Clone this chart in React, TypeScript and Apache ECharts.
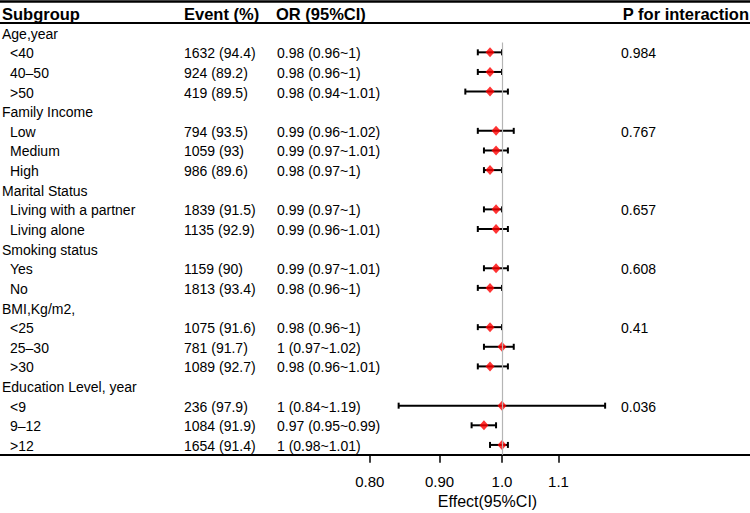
import React, { useEffect, useRef } from "react";
import * as echarts from "echarts";

// ---------- data ----------
const headers = ["Subgroup", "Event (%)", "OR (95%CI)", "P for interaction"];

const rowLabels = [
  "Age,year", "<40", "40–50", ">50",
  "Family Income", "Low", "Medium", "High",
  "Marital Status", "Living with a partner", "Living alone",
  "Smoking status", "Yes", "No",
  "BMI,Kg/m2,", "<25", "25–30", ">30",
  "Education Level, year", "<9", "9–12", ">12",
];

const eventN: (number | null)[] = [
  null, 1632, 924, 419,
  null, 794, 1059, 986,
  null, 1839, 1135,
  null, 1159, 1813,
  null, 1075, 781, 1089,
  null, 236, 1084, 1654,
];

const eventPct: (number | null)[] = [
  null, 94.4, 89.2, 89.5,
  null, 93.5, 93, 89.6,
  null, 91.5, 92.9,
  null, 90, 93.4,
  null, 91.6, 91.7, 92.7,
  null, 97.9, 91.9, 91.4,
];

const orEst: (number | null)[] = [
  null, 0.98, 0.98, 0.98,
  null, 0.99, 0.99, 0.98,
  null, 0.99, 0.99,
  null, 0.99, 0.98,
  null, 0.98, 1, 0.98,
  null, 1, 0.97, 1,
];

const orLow: (number | null)[] = [
  null, 0.96, 0.96, 0.94,
  null, 0.96, 0.97, 0.97,
  null, 0.97, 0.96,
  null, 0.97, 0.96,
  null, 0.96, 0.97, 0.96,
  null, 0.84, 0.95, 0.98,
];

const orHigh: (number | null)[] = [
  null, 1, 1, 1.01,
  null, 1.02, 1.01, 1,
  null, 1, 1.01,
  null, 1.01, 1,
  null, 1, 1.02, 1.01,
  null, 1.19, 0.99, 1.01,
];

const pInteraction: (string | null)[] = [
  null, "0.984", null, null,
  null, "0.767", null, null,
  null, "0.657", null,
  null, "0.608", null,
  null, "0.41", null, null,
  null, "0.036", null, null,
];

const tickValues = [0.8, 0.9, 1.0, 1.1];
const tickLabels = ["0.80", "0.90", "1.0", "1.1"];
const axisTitle = "Effect(95%CI)";
const referenceValue = 1;

// ---------- layout ----------
const FONT = "'Liberation Sans', Arial, Helvetica, sans-serif";
const W = 750;
const H = 513;
const X_MIN = -0.36777; // log10 scale
const X_MAX = 0.18168;
const ROW_PX = 19.63;
const FIRST_ROW_Y = 32.7;
const Y_MIN = -FIRST_ROW_Y / ROW_PX;
const Y_MAX = 21.5;
const GRID_BOTTOM = H - (FIRST_ROW_Y + Y_MAX * ROW_PX);
const COL_X = [2, 184, 277, 621];
const SUB_INDENT = 10;
const HEADER_SIZE = 16.5;
const BODY_SIZE = 14;

const fmtEvent = (i: number) => `${eventN[i]} (${eventPct[i]})`;
const fmtOR = (i: number) => `${orEst[i]} (${orLow[i]}~${orHigh[i]})`;

export default function App() {
  const ref = useRef<HTMLDivElement>(null);

  useEffect(() => {
    if (!ref.current) return;
    const chart = echarts.init(ref.current, null, { renderer: "svg" });

    const tickLog = tickValues.map((v) => Math.log10(v));

    const tableData: number[][] = [[0, -1]];
    rowLabels.forEach((_, i) => tableData.push([0, i]));

    const barData: number[][] = [];
    const pointData: number[][] = [];
    rowLabels.forEach((_, i) => {
      if (orEst[i] == null) return;
      barData.push([Math.log10(orLow[i] as number), Math.log10(orHigh[i] as number), i]);
      pointData.push([Math.log10(orEst[i] as number), i]);
    });

    const txt = (text: string, x: number, y: number, size: number, bold = false, align = "left") => ({
      type: "text",
      x,
      y,
      style: {
        text,
        fill: "#000",
        fontSize: size,
        fontFamily: FONT,
        fontWeight: bold ? "bold" : "normal",
        align,
        verticalAlign: "middle",
      },
    });

    chart.setOption({
      animation: false,
      backgroundColor: "#fff",
      grid: { left: 0, right: 0, top: 0, bottom: GRID_BOTTOM, containLabel: false },
      xAxis: {
        type: "value",
        min: X_MIN,
        max: X_MAX,
        splitLine: { show: false },
        axisLine: { show: true, onZero: false, lineStyle: { color: "#000", width: 2 } },
        axisTick: {
          show: true,
          customValues: tickLog,
          length: 8,
          lineStyle: { color: "#000", width: 1.5 },
        },
        axisLabel: {
          show: true,
          customValues: tickLog,
          margin: 19,
          fontSize: 15,
          color: "#000",
          fontFamily: FONT,
          formatter: (v: number) => {
            const k = tickLog.findIndex((t) => Math.abs(t - v) < 1e-6);
            return k >= 0 ? tickLabels[k] : "";
          },
        },
      },
      yAxis: { type: "value", inverse: true, min: Y_MIN, max: Y_MAX, show: false },
      graphic: [
        {
          type: "text",
          x: 487.5,
          y: 501,
          style: {
            text: axisTitle,
            fill: "#000",
            fontSize: 16,
            fontFamily: FONT,
            align: "center",
            verticalAlign: "middle",
          },
        },
      ],
      series: [
        {
          type: "custom",
          name: "table",
          z: 1,
          silent: true,
          data: tableData,
          renderItem: (params: any, api: any) => {
            const row = api.value(1);
            const y = api.coord([0, row])[1] + 1;
            if (row === -1) {
              return {
                type: "group",
                children: [
                  txt(headers[0], COL_X[0], y, HEADER_SIZE, true),
                  txt(headers[1], COL_X[1], y, HEADER_SIZE, true),
                  txt(headers[2], COL_X[2] - 1, y, HEADER_SIZE, true),
                  txt(headers[3], W - 1, y, HEADER_SIZE, true, "right"),
                ],
              };
            }
            const i = row;
            const children: any[] = [];
            if (eventN[i] == null) {
              children.push(txt(rowLabels[i], COL_X[0], y, BODY_SIZE));
            } else {
              children.push(txt(rowLabels[i], SUB_INDENT, y, BODY_SIZE));
              children.push(txt(fmtEvent(i), COL_X[1], y, BODY_SIZE));
              children.push(txt(fmtOR(i), COL_X[2], y, BODY_SIZE));
            }
            if (pInteraction[i]) children.push(txt(pInteraction[i] as string, COL_X[3], y, BODY_SIZE));
            return { type: "group", children };
          },
          markLine: {
            silent: true,
            symbol: ["none", "none"],
            label: { show: false },
            data: [
              { yAxis: -1.58, lineStyle: { color: "#000", width: 2.5, type: "solid" } },
              { yAxis: -0.52, lineStyle: { color: "#000", width: 2, type: "solid" } },
              [
                { coord: [Math.log10(referenceValue), 0.5], lineStyle: { color: "#b5b5b5", width: 1.2, type: "solid" } },
                { coord: [Math.log10(referenceValue), Y_MAX] },
              ],
            ],
          },
        },
        {
          type: "custom",
          name: "ci",
          z: 2,
          silent: true,
          data: barData,
          renderItem: (params: any, api: any) => {
            const row = api.value(2);
            const p1 = api.coord([api.value(0), row]);
            const p2 = api.coord([api.value(1), row]);
            const style = { stroke: "#000", lineWidth: 2 };
            const cap = 3;
            return {
              type: "group",
              children: [
                { type: "line", shape: { x1: p1[0], y1: p1[1], x2: p2[0], y2: p2[1] }, style },
                { type: "line", shape: { x1: p1[0], y1: p1[1] - cap, x2: p1[0], y2: p1[1] + cap }, style },
                { type: "line", shape: { x1: p2[0], y1: p2[1] - cap, x2: p2[0], y2: p2[1] + cap }, style },
              ],
            };
          },
        },
        {
          type: "scatter",
          name: "OR",
          z: 3,
          silent: true,
          symbol: "diamond",
          symbolSize: [9, 10],
          itemStyle: { color: "#ff0000" },
          data: pointData,
        },
      ],
    });

    return () => chart.dispose();
  }, []);

  return (
    <div
      ref={ref}
      style={{ position: "fixed", left: 0, top: 0, width: W, height: H, background: "#fff" }}
    />
  );
}
